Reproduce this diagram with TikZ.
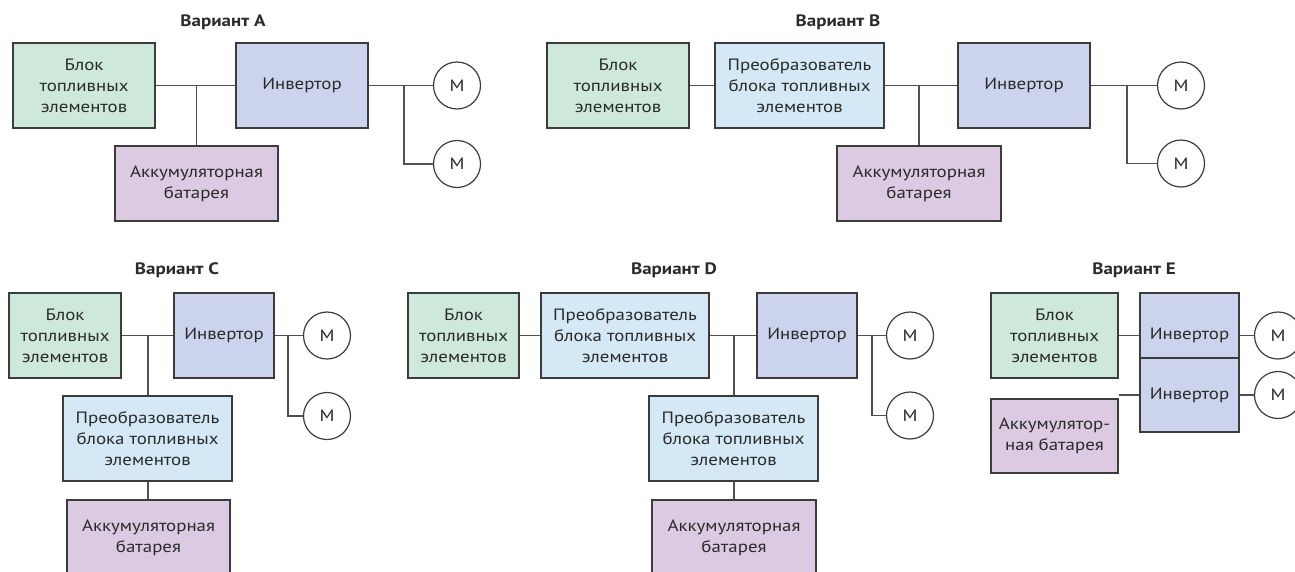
\documentclass[tikz,border=0pt]{standalone}
\usepackage{fontspec}
\setmainfont{PT Sans}[FakeStretch=1.15]
\definecolor{fcgreen}{HTML}{CFE8DC}
\definecolor{invblue}{HTML}{CCD3EC}
\definecolor{cvblue}{HTML}{D4E8F6}
\definecolor{batpurple}{HTML}{DCCAE3}
\definecolor{edge}{HTML}{3C3C3C}
\definecolor{txt}{HTML}{2A2A2A}
\tikzset{
  box/.style={draw=edge, line width=1.2pt, inner sep=0pt, align=center, text=txt,
    font=\fontsize{16.4}{21}\selectfont},
  fcbox/.style={box, fill=fcgreen},
  invbox/.style={box, fill=invblue},
  cvbox/.style={box, fill=cvblue},
  batbox/.style={box, fill=batpurple},
  motor/.style={circle, draw=edge, line width=1.2pt, fill=white, minimum size=47pt, inner sep=0pt, text=txt,
    font=\fontsize{16.4}{21}\selectfont},
  wire/.style={draw=edge!90, line width=1.2pt},
  title/.style={text=txt, font=\bfseries\fontsize{16.5}{18}\selectfont},
}
\newcommand{\fctext}{Блок\\топливных\\элементов}
\newcommand{\cvtext}{Преобразователь\\блока топливных\\элементов}
\newcommand{\battext}{Аккумуляторная\\батарея}
\begin{document}
\begin{tikzpicture}[x=1pt,y=-1pt]
\useasboundingbox (0,0) rectangle (1295,571);
\clip (0,0) rectangle (1295,571);
% ---------------- Variant A
\node[title] (tA) at (223,22) {Вариант A};
\node[fcbox, minimum width=142pt, minimum height=85pt] (fcA) at (84,85.5) {\fctext};
\node[invbox, minimum width=132pt, minimum height=85pt] (invA) at (302,85.5) {Инвертор};
\node[batbox, minimum width=163pt, minimum height=75pt] (batA) at (196.5,183.5) {\battext};
\node[motor] (mA1) at (457,85.5) {M};
\node[motor] (mA2) at (457,164) {M};
\coordinate (jA) at (batA.north |- fcA.east);
\coordinate (kA) at (404,85.5);
\draw[wire] (fcA.east) -- (invA.west);
\draw[wire] (jA) -- (batA.north);
\draw[wire] (invA.east) -- (mA1.west);
\draw[wire] (kA) |- (mA2.west);
% ---------------- Variant B
\node[title] (tB) at (838,22) {Вариант B};
\node[fcbox, minimum width=142pt, minimum height=85pt] (fcB) at (618,85.5) {\fctext};
\node[cvbox, minimum width=169pt, minimum height=85pt] (cvB) at (799.5,85.5) {\cvtext};
\node[invbox, minimum width=132pt, minimum height=85pt] (invB) at (1024,85.5) {Инвертор};
\node[batbox, minimum width=164pt, minimum height=75pt] (batB) at (919,183.5) {\battext};
\node[motor] (mB1) at (1181,85.5) {M};
\node[motor] (mB2) at (1181,163.5) {M};
\coordinate (jB) at (batB.north |- cvB.east);
\coordinate (kB) at (1127,85.5);
\draw[wire] (fcB.east) -- (cvB.west);
\draw[wire] (cvB.east) -- (invB.west);
\draw[wire] (jB) -- (batB.north);
\draw[wire] (invB.east) -- (mB1.west);
\draw[wire] (kB) |- (mB2.west);
% ---------------- Variant C
\node[title] (tC) at (177,270) {Вариант C};
\node[fcbox, minimum width=112pt, minimum height=85pt] (fcC) at (65,335.5) {\fctext};
\node[invbox, minimum width=100pt, minimum height=85pt] (invC) at (224,335.5) {Инвертор};
\node[cvbox, minimum width=169pt, minimum height=85pt] (cvC) at (147.5,438.5) {\cvtext};
\node[batbox, minimum width=163pt, minimum height=75pt] (batC) at (148.5,537.5) {\battext};
\node[motor] (mC1) at (327,335.5) {M};
\node[motor] (mC2) at (327,416) {M};
\coordinate (jC) at (148,335.5);
\coordinate (kC) at (288,335.5);
\draw[wire] (fcC.east) -- (invC.west);
\draw[wire] (jC) -- (jC |- cvC.north);
\draw[wire] (jC |- cvC.south) -- (jC |- batC.north);
\draw[wire] (invC.east) -- (mC1.west);
\draw[wire] (kC) |- (mC2.west);
% ---------------- Variant D
\node[title] (tD) at (674,270) {Вариант D};
\node[fcbox, minimum width=111pt, minimum height=85pt] (fcD) at (463.5,335.5) {\fctext};
\node[cvbox, minimum width=168pt, minimum height=85pt] (cvD1) at (625,335.5) {\cvtext};
\node[invbox, minimum width=100pt, minimum height=85pt] (invD) at (807,335.5) {Инвертор};
\node[cvbox, minimum width=169pt, minimum height=85pt] (cvD2) at (733.5,438.5) {\cvtext};
\node[batbox, minimum width=164pt, minimum height=75pt] (batD) at (734,537.5) {\battext};
\node[motor] (mD1) at (910,335.5) {M};
\node[motor] (mD2) at (910,415.5) {M};
\coordinate (jD) at (734,335.5);
\coordinate (kD) at (872,335.5);
\draw[wire] (fcD.east) -- (cvD1.west);
\draw[wire] (cvD1.east) -- (invD.west);
\draw[wire] (jD) -- (jD |- cvD2.north);
\draw[wire] (jD |- cvD2.south) -- (jD |- batD.north);
\draw[wire] (invD.east) -- (mD1.west);
\draw[wire] (kD) |- (mD2.west);
% ---------------- Variant E
\node[title] (tE) at (1134,270) {Вариант E};
\node[fcbox, minimum width=127pt, minimum height=85pt] (fcE) at (1054.5,335.5) {\fctext};
\node[invbox, minimum width=99pt, minimum height=85pt] (invE1) at (1189.5,335.5) {Инвертор};
\node[invbox, minimum width=99pt, minimum height=74pt] (invE2) at (1189.5,395) {Инвертор};
\node[batbox, minimum width=127pt, minimum height=74pt] (batE) at (1054.5,436) {Аккумулятор-\\ная батарея};
\node[motor] (mE1) at (1278,335.5) {M};
\node[motor] (mE2) at (1278,395) {M};
\coordinate (eE) at (fcE.east |- invE2.west);
\draw[wire] (fcE.east) -- (invE1.west);
\draw[wire] (eE) -- (invE2.west);
\draw[wire] (invE1.east) -- (mE1.west);
\draw[wire] (invE2.east) -- (mE2.west);
\end{tikzpicture}
\end{document}
